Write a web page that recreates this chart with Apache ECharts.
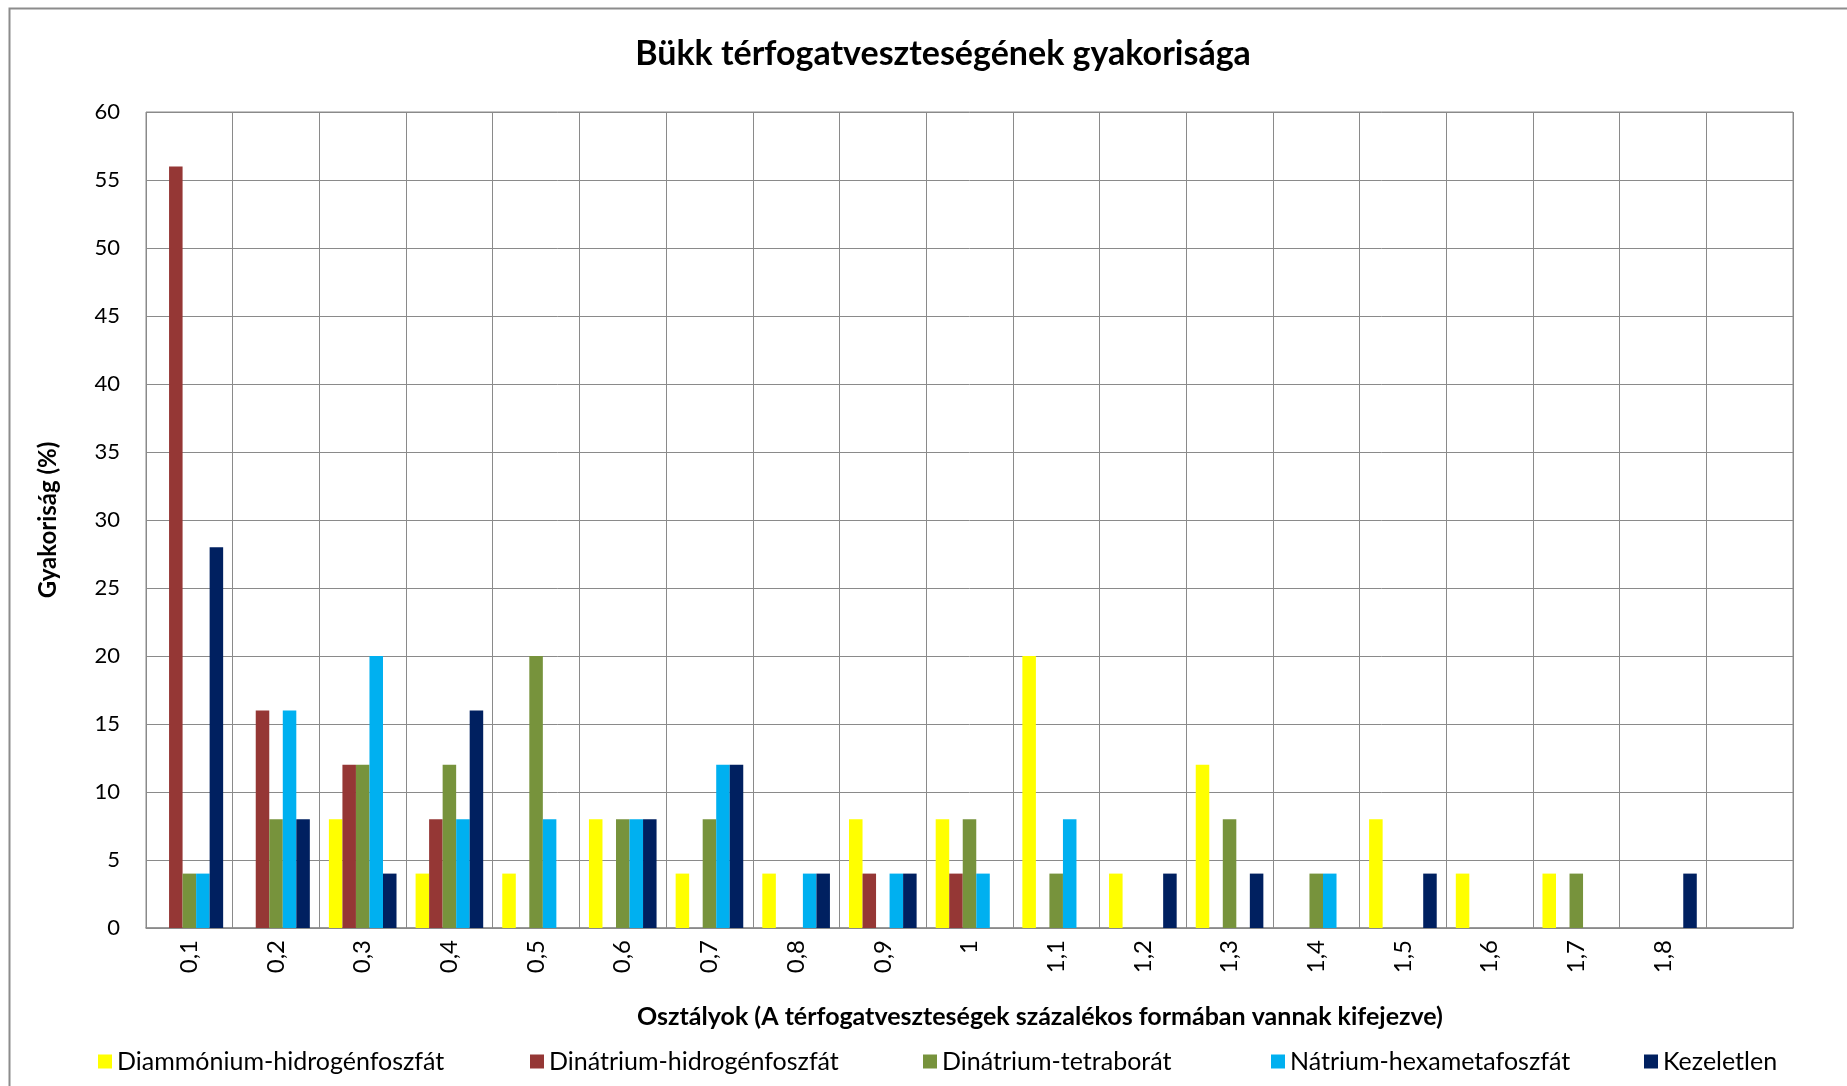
<!DOCTYPE html>
<html>
<head>
<meta charset="utf-8">
<script src="https://cdn.jsdelivr.net/npm/echarts@6/dist/echarts.min.js"></script>
<style>
html,body{margin:0;padding:0;background:#fff;}
#c{width:1847px;height:1086px;}
</style>
</head>
<body>
<div id="c"></div>
<script>
const categories = ['0,1','0,2','0,3','0,4','0,5','0,6','0,7','0,8','0,9','1','1,1','1,2','1,3','1,4','1,5','1,6','1,7','1,8',''];
const seriesNames = ['Diammónium-hidrogénfoszfát','Dinátrium-hidrogénfoszfát','Dinátrium-tetraborát','Nátrium-hexametafoszfát','Kezeletlen'];
const diammonium = [0,0,8,4,4,8,4,4,8,8,20,4,12,0,8,4,4,0,0];
const dinatriumHidrogen = [56,16,12,8,0,0,0,0,4,4,0,0,0,0,0,0,0,0,0];
const dinatriumTetraborat = [4,8,12,12,20,8,8,0,0,8,4,0,8,4,0,0,4,0,0];
const natriumHexameta = [4,16,20,8,8,8,12,4,4,4,8,0,0,4,0,0,0,0,0];
const kezeletlen = [28,8,4,16,0,8,12,4,4,0,0,4,4,0,4,0,0,4,0];
const colors = ['#FFFF00','#953735','#77933C','#00B0F0','#002060'];
const yTicks = {min:0, max:60, interval:5};

const allData = [diammonium, dinatriumHidrogen, dinatriumTetraborat, natriumHexameta, kezeletlen];
const FONT = 'Lato';
const chart = echarts.init(document.getElementById('c'));
const legendLefts = [93, 525, 918, 1266, 1639];
chart.setOption({
  backgroundColor:'#fff',
  animation:false,
  textStyle:{fontFamily:FONT},
  title:[
    {text:'Bükk térfogatveszteségének gyakorisága', left:938, top:32, textAlign:'center',
     textStyle:{fontFamily:FONT, fontSize:34, fontWeight:'bold', color:'#000'}},
    {text:'Osztályok (A térfogatveszteségek százalékos formában vannak kifejezve)', left:1035, top:999, textAlign:'center',
     textStyle:{fontFamily:FONT, fontSize:25, fontWeight:'bold', color:'#000'}}
  ],
  graphic:[{type:'rect', shape:{x:9.5,y:8.5,width:1900,height:1200}, style:{fill:'none', stroke:'#8c8c8c', lineWidth:2}, silent:true}],
  legend: seriesNames.map((n,i)=>({
    data:[n], left:legendLefts[i], top:1044, itemWidth:14, itemHeight:14, itemGap:10,
    icon:'rect', textStyle:{fontFamily:FONT, fontSize:25, color:'#000'}
  })),
  grid:{left:146, right:54, top:112, bottom:158, show:true, borderColor:'#8a8a8a', borderWidth:1},
  xAxis:{
    type:'category', data:categories,
    axisLine:{show:true, lineStyle:{color:'#8a8a8a', width:1.5}},
    axisTick:{show:false},
    splitLine:{show:true, lineStyle:{color:'#8a8a8a', width:1}},
    axisLabel:{rotate:90, margin:12, fontFamily:FONT, fontSize:24, color:'#000', interval:0}
  },
  yAxis:{
    type:'value', min:yTicks.min, max:yTicks.max, interval:yTicks.interval,
    name:'Gyakoriság (%)', nameLocation:'middle', nameGap:86,
    nameTextStyle:{fontFamily:FONT, fontSize:24, fontWeight:'bold', color:'#000'},
    axisLine:{show:false}, axisTick:{show:false},
    splitLine:{show:true, lineStyle:{color:'#8a8a8a', width:1}},
    axisLabel:{margin:26, fontFamily:FONT, fontSize:22, color:'#000'}
  },
  series: seriesNames.map((n,i)=>({
    name:n, type:'bar', data:allData[i], barGap:'0%', barCategoryGap:'22%',
    itemStyle:{color:colors[i]}
  }))
});
</script>
</body>
</html>
